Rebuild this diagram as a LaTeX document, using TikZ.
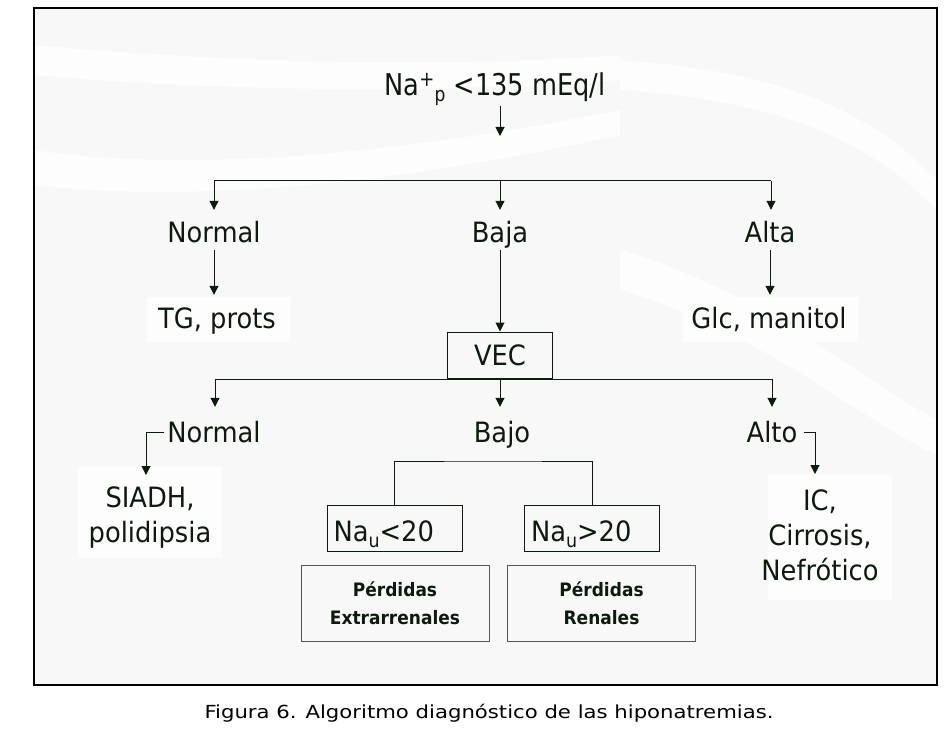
\documentclass[tikz,border=0pt]{standalone}
\usepackage{fontspec}
\usepackage{graphicx}
\setmainfont{DejaVu Sans}[FakeStretch=0.92]
\usetikzlibrary{arrows.meta,calc}
\definecolor{ink}{HTML}{0F1A0F}
\definecolor{bg}{HTML}{F8F8F8}
\definecolor{band}{HTML}{FDFDFD}
\definecolor{boxgray}{HTML}{555555}
\tikzset{
  lbl/.style={inner sep=0pt, text height=20pt, text depth=0pt, text=ink, font=\fontsize{28}{35}\selectfont, anchor=base},
  multi/.style={inner sep=0pt, align=center, text=ink, font=\fontsize{28}{35}\selectfont, anchor=north},
  conn/.style={draw=ink, line width=1pt},
  arr/.style={conn, -{Triangle[width=9pt,length=9pt]}},
  vecbox/.style={draw=ink, line width=1pt, minimum width=105pt, minimum height=46pt, inner sep=0pt, text=ink, font=\fontsize{28}{28}\selectfont},
  naubox/.style={draw=ink, line width=1pt, minimum height=46pt, text width=122pt, inner xsep=6.5pt, inner ysep=0pt, align=left, text height=26pt, text depth=0pt, text=ink, font=\fontsize{28}{28}\selectfont},
  perdbox/.style={draw=boxgray, line width=1pt, minimum width=188pt, minimum height=76pt, inner sep=0pt, align=center, text=ink, font=\bfseries\fontsize{18.5}{28}\selectfont},
  framebox/.style={draw=black, line width=1.3pt},
}
\begin{document}
\begin{tikzpicture}[x=1pt,y=-1pt]
\useasboundingbox (0,0) rectangle (944,730);
% backdrop
\fill[bg] (34,8) rectangle (937,685);
\fill[band] (34,45) .. controls (200,60) and (420,70) .. (620,55) -- (620,80) .. controls (420,95) and (200,90) .. (34,75) -- cycle;
\fill[band] (34,150) .. controls (200,175) and (420,150) .. (620,110) -- (620,135) .. controls (420,180) and (200,205) .. (34,185) -- cycle;
\fill[band] (620,250) .. controls (760,290) and (860,380) .. (937,420) -- (937,455) .. controls (860,420) and (760,330) .. (620,290) -- cycle;
\fill[band] (620,60) .. controls (760,70) and (860,100) .. (937,180) -- (937,210) .. controls (860,130) and (760,100) .. (620,90) -- cycle;
\fill[band] (147,297) rectangle (290,342);
\fill[band] (683,297) rectangle (858,342);
\fill[band] (78,467) rectangle (222,558);
\fill[band] (768,475) rectangle (892,600);
\draw[framebox] (34,8) rectangle (937,685);

% nodes
\node[anchor=base, inner sep=0pt, text=ink] (na) at (495,96)
  {\scalebox{0.93}[1]{\fontsize{30}{30}\selectfont Na\raisebox{9pt}{\fontsize{21}{21}\selectfont +}\raisebox{-6pt}{\fontsize{20}{20}\selectfont p} <135 mEq/l}};
\coordinate (a0) at (500,136);
\coordinate (b1L) at (214,181);
\coordinate (b1C) at (500,181);
\coordinate (b1R) at (771,181);

\node[lbl] (n1) at (214,242) {Normal};
\node[lbl] (baja) at (500,242) {Baja};
\node[lbl] (alta) at (770,242) {Alta};
\node[lbl] (tg) at (217,328) {TG, prots};
\node[lbl] (glc) at (769,328) {Glc, manitol};
\node[vecbox] (vec) at (500,355) {VEC};

\coordinate (b2L) at (215,379);
\coordinate (b2R) at (772,379);
\node[lbl] (n2) at (214,442) {Normal};
\node[lbl] (bajo) at (502,442) {Bajo};
\node[lbl] (alto) at (772,442) {Alto};
\node[multi] (siadh) at (150,487) {SIADH,\\polidipsia};
\node[multi] (ic) at (820,490) {IC,\\Cirrosis,\\Nefrótico};
\coordinate (e1) at (146,430);
\coordinate (e2) at (815,430);

\node[naubox] (nau1) at (394.5,528) {Na\raisebox{-6pt}{\fontsize{19}{19}\selectfont u}<20};
\node[naubox] (nau2) at (592,528) {Na\raisebox{-6pt}{\fontsize{19}{19}\selectfont u}>20};
\coordinate (brk) at (493,461);
\node[perdbox] (p1) at (395,603) {Pérdidas\\Extrarrenales};
\node[perdbox] (p2) at (601.5,603) {Pérdidas\\Renales};

\node[anchor=base, inner sep=0pt, text=black, font=\fontsize{18}{18}\selectfont] (cap) at (489,718)
  {\scalebox{1.28}[1]{Figura 6. Algoritmo diagnóstico de las hiponatremias.}};

% connectors
\draw[arr] (na.south -| a0) -- (a0);
\draw[conn] (b1L) -- (b1R);
\draw[arr, shorten >=12pt] (b1L) -- (b1L |- n1.north);
\draw[arr, shorten >=12pt] (b1C) -- (b1C |- baja.north);
\draw[arr, shorten >=12pt] (b1R) -- (b1R |- alta.north);
\draw[arr, shorten <=8pt, shorten >=13pt] (n1.south) -- (n1.south |- tg.north);
\draw[arr, shorten <=8pt] (baja.south) -- (vec.north);
\draw[arr, shorten <=8pt, shorten >=13pt] (alta.south) -- (alta.south |- glc.north);

\draw[conn] (b2L) -- (b2R);
\draw[arr, shorten >=15pt] (vec.south) -- (vec.south |- bajo.north);
\draw[arr, shorten >=15pt] (b2L) -- (b2L |- n2.north);
\draw[arr, shorten >=15pt] (b2R) -- (b2R |- alto.north);
\draw[arr, shorten <=3pt, shorten >=12pt] (n2.west) -| (e1 |- siadh.north);
\draw[arr, shorten <=6pt, shorten >=16pt] (alto.east) -| (e2 |- ic.north);
\draw[conn] (nau1.north) |- (brk) -| (nau2.north);
\end{tikzpicture}
\end{document}
